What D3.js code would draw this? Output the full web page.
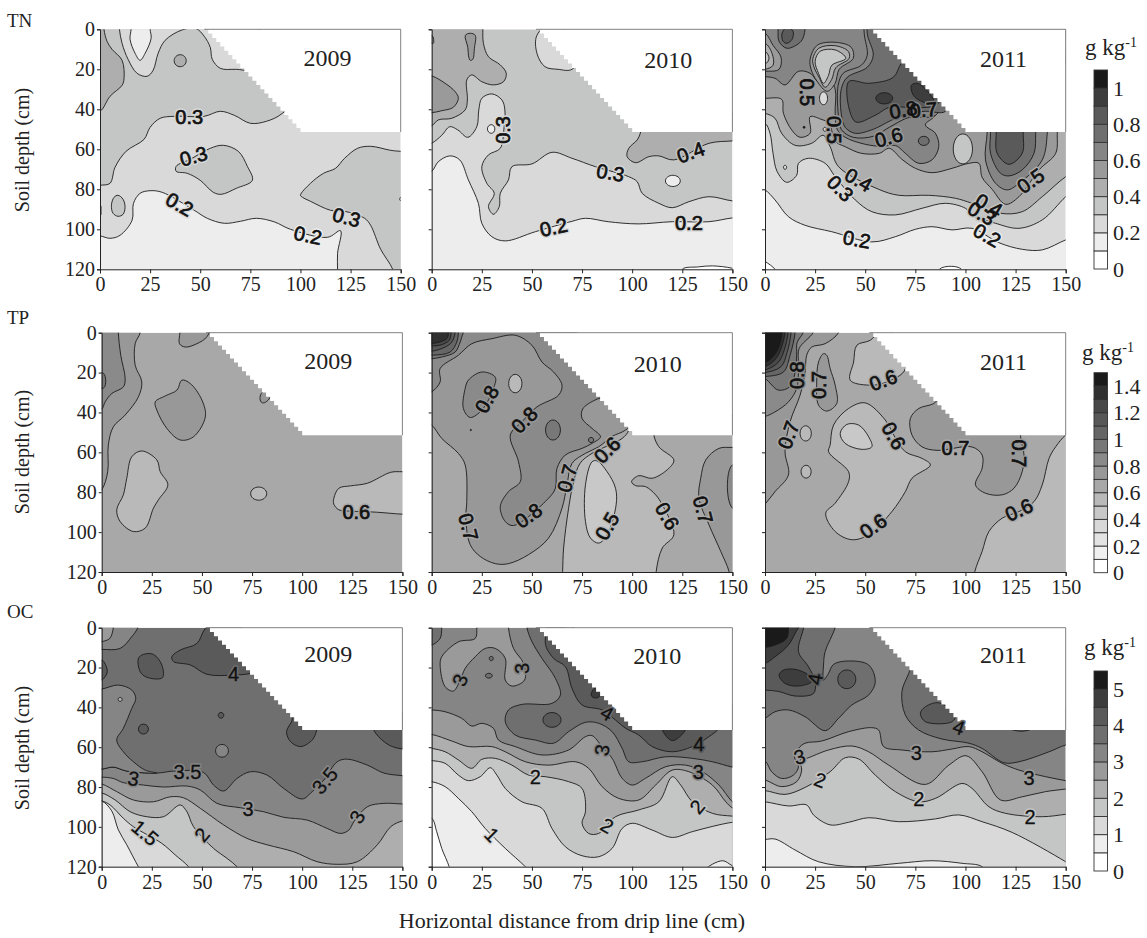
<!DOCTYPE html>
<html>
<head>
<meta charset="utf-8">
<script src="https://cdn.jsdelivr.net/npm/d3@7"></script>
<style>
  body { margin: 0; background: #fff; }
  text { font-family: "Liberation Serif", serif; fill: #222; }
  .lab, .halo { font-family: "Liberation Sans", sans-serif; font-size: 20px; }
  .halo { stroke-width: 3.5px; stroke-linejoin: round; }
  .lab { fill: #111; stroke: #111; }
  .tick text { font-size: 20px; }
  .tick line, .domain { stroke: #222; }
</style>
</head>
<body>
<svg id="chart" width="1147" height="938"></svg>
<script>
const gray11 = ['#ffffff', '#ecedec', '#d9d9d9', '#c4c6c5', '#aeaeae', '#9a9a9a', '#858585', '#6f6f6f', '#5a5a5a', '#3d3d3d', '#1a1a1a'];
const gray15 = ['#ffffff', '#f0f0f0', '#e3e3e3', '#d8d8d8', '#c8c8c8', '#b8b9b8', '#a8a8a8', '#989898', '#8a8a8a', '#787878', '#666666', '#585858', '#484848', '#303030', '#1a1a1a'];

const xTicks = [0, 25, 50, 75, 100, 125, 150];
const depthTicks = [0, 20, 40, 60, 80, 100, 120];
const tnTicks = [0, 0.2, 0.4, 0.6, 0.8, 1];
const tpTicks = [0, 0.2, 0.4, 0.6, 0.8, 1, 1.2, 1.4];
const ocTicks = [0, 1, 2, 3, 4, 5];
const years = ['2009', '2010', '2011'];

// edge of the unsampled area, x / depth
const maskEdge = [[52, 0], [54, 2.1], [56, 4.3], [58, 6.4], [60, 8.6], [62, 10.7], [64, 12.9], [66, 15], [68, 17.1], [70, 19.3], [72, 21.4], [74, 23.6], [76, 25.7], [78, 27.9], [80, 30], [82, 32.1], [84, 34.3], [86, 36.4], [88, 38.6], [90, 40.7], [92, 42.8], [94, 45], [96, 47.1], [98, 49.3], [100, 51.4], [157, 51.4], [157, -6], [52, -6]];

// contour regions, painted in order: [band, [x, depth, x, depth, ...]]
const tn2009 = [
  [3, [-6, 79, 0, 78, 5, 77, 7.5, 69, 13, 61, 22, 55, 25, 49, 30, 44.5, 37, 43.5, 52, 43.5, 60, 41, 67, 43, 75, 47, 83, 46, 91, 42, 110, 20, 60, -6, -6, -6]],
  [2, [9.5, -6, 9.7, 0, 11, 7, 14, 15, 18.5, 22, 23.5, 23.5, 26.5, 20.5, 29, 12, 32.5, 5.5, 41, 0.3, 48, -0.3, 52, 3.5, 55, 9, 56, 15, 60, 19.5, 68, 20, 80, 20, 70, -6]],
  [1, [15.5, -6, 15.5, 0, 15, 5, 17.5, 12, 20, 15.5, 22.5, 12, 25.5, 4.5, 25, 0, 25, -6]],
  [4, [-6, 41.5, 0, 41, 5, 33.5, 11, 28, 12, 24.5, 11, 15.5, 6, 10, 3.5, 6, 2, 0, 2, -6, -6, -6]],
  [4, [37, 15.7, 40, 12.7, 43, 15.7, 40, 18.7]],
  [3, [38, 68.5, 38, 71, 43.5, 72, 50, 75.5, 56.5, 81.5, 60.5, 82.5, 68, 79.5, 76, 75.5, 73.5, 68.5, 69, 61, 61.5, 58, 55, 59.5, 45, 65]],
  [3, [100, 83, 105, 77, 111.5, 72, 117.5, 69.5, 122, 64.5, 128.5, 59.5, 135, 58.5, 145, 60.5, 150, 61, 157, 61, 157, 126, 147, 126, 146, 120, 140, 110, 135, 98, 132, 94.5, 122, 91, 115, 90.5, 105, 86, 101, 84]],
  [3, [5.7, 88, 7, 84, 9, 83, 11.5, 85, 12.5, 89, 11.5, 92.5, 9, 93.5, 6.5, 92]],
  [3, [-2, 90, 0, 88, 0.5, 90.5, 0, 93]],
  [2, [149.5, 85, 150.5, 83.5, 151, 86.5]],
  [1, [-6, 103, 0, 103.3, 5, 104.5, 10, 103, 16, 95.5, 16.7, 87, 20, 82, 25, 80.7, 31, 81.5, 47, 90.5, 53.5, 94.5, 62, 97, 70, 96, 78, 94.5, 87, 96.3, 95, 100, 113.5, 104, 120, 100.7, 118.5, 112, 118.5, 120, 118.5, 126, -6, 126]],
];
const tn2010 = [
  [2, [-6, 59, 0, 57, 5, 53, 9, 48.7, 13, 50.3, 18, 54, 22.5, 48.7, 23.5, 40.3, 25, 34.5, 30, 32.3, 35, 35.3, 36.5, 40.3, 36, 50, 34.2, 59.5, 28.3, 62.8, 25, 68.7, 27.5, 77, 31.2, 82, 28.3, 88.7, 30.8, 92.5, 33.7, 88.7, 34.2, 82, 38.3, 75.3, 40, 68.7, 50, 67.3, 60, 61.5, 70, 64.5, 81.7, 68.7, 98.3, 73.7, 102.5, 76.2, 105, 82, 113.3, 87, 120, 89.2, 128.3, 86.2, 138.3, 83.7, 150, 85.8, 157, 86, 157, 126, -6, 126]],
  [1, [27.8, 49.8, 29.7, 47.7, 31.5, 49.8, 29.7, 52]],
  [1, [116.6, 75.8, 120.3, 73, 124, 75.8, 120.3, 78.6]],
  [2, [52.5, 3, 52.5, 12, 56.5, 18.7, 63, 20, 70, 20, 75, 10, 60, -3]],
  [1, [-6, 73, 0, 71, 3.3, 66.2, 9, 63.3, 14, 65.3, 18.3, 75.3, 23.3, 87, 25, 97, 30, 103.7, 36.7, 105.8, 51.7, 101.2, 70, 96, 76.7, 94.5, 88, 96.2, 103, 97.3, 120, 96.2, 138.3, 96.2, 150, 94.3, 157, 94, 157, 126, -6, 126]],
  [0, [125, 120, 133, 118.8, 140, 118.3, 150, 119.5, 157, 122, 157, 126, 125, 126]],
  [4, [25.5, -6, 25.5, 0, 25.8, 7, 28.3, 13.7, 34.2, 17.8, 37.2, 22, 35.8, 26.2, 30.8, 27.8, 25, 26.2, 20, 22.8, 17.5, 25.3, 17.8, 35.3, 16.7, 40.3, 10, 44.5, 3.3, 45.3, 0, 48.3, -6, 50, -6, -6]],
  [5, [-6, 22.5, 0, 23.3, 6.7, 27, 11.7, 31.2, 13.3, 34.5, 10.8, 39, 5, 40.7, 0, 41.7, -6, 41.7]],
  [5, [16.8, 3, 19.2, 2, 21.7, 3, 21.3, 9.5, 20.5, 15, 19.2, 15.5, 18.5, 14, 18, 9]],
  [5, [-2, 5, 0, 3, 1, 6, 0, 7]],
  [4, [104.2, 51.3, 102.5, 55.3, 98.3, 59.5, 97.5, 63.7, 101.7, 66.7, 108.3, 63.7, 113.3, 63.3, 120.8, 65.3, 138.3, 57, 150, 55.8, 157, 55, 157, 45, 104, 45]],
];
const tn2011 = [
  [1, [-6, 78, 0, 80.3, 5, 85.3, 11.7, 93.7, 20, 98, 33.3, 101.2, 53.3, 106.3, 65, 103.7, 75, 100, 83.3, 98.7, 93.3, 100.3, 103.3, 99.5, 116.7, 106.7, 128.3, 110, 138.3, 110.3, 150, 105.3, 157, 103, 157, 126, -6, 126]],
  [0, [-6, 112, 0, 116, 5, 120, 8, 126, -6, 126]],
  [0, [87, 120, 93, 118.5, 98, 120, 100, 126, 86, 126]],
  [3, [-6, 47, 0, 47, 2.5, 52, 4, 62, 6, 71, 10.8, 76.5, 15.8, 73, 16.7, 67, 21.7, 64.5, 30, 67, 35, 73.7, 45, 85.3, 53.3, 91.2, 65, 92.8, 78.3, 89.5, 90, 87, 100, 89.5, 103.3, 92.8, 115, 97, 126.7, 99.5, 138.3, 95.3, 150, 83.7, 157, 78, 157, -6, -6, -6]],
  [4, [-6, 41, 0, 42, 5, 44.5, 8.3, 52, 15, 58, 23.3, 57, 29, 53, 32.5, 58.7, 36.7, 68.7, 56.7, 80, 66.7, 83, 81.7, 83, 95, 84.5, 103.3, 87, 117.5, 92, 128.3, 91.2, 138.3, 83.7, 150, 73.7, 157, 70, 157, -6, -6, -6]],
  [5, [-6, 34.5, 0, 34.5, 8.3, 35, 9.2, 42, 13.3, 50.3, 17.5, 54, 22.5, 52, 22.5, 43.7, 28, 45, 32, 47, 35, 56, 40, 58.7, 48, 62, 57, 62, 62, 59.5, 68.3, 65, 75, 69.5, 83.3, 71.7, 93.3, 69.5, 101.7, 67, 106.7, 67, 108.3, 74, 113.3, 80, 120, 87.5, 126.7, 83.7, 136.7, 70.3, 145, 62, 145.8, 52, 146, 40, 146, -6, -6, -6]],
  [6, [-6, 23.7, 0, 23.7, 5, 24.5, 10, 27.8, 16.7, 21, 22.5, 22, 27, 26.5, 32, 25, 35, 30, 35, 42, 36, 50, 40, 54, 50, 57.5, 58, 58.5, 63, 58, 66, 58.5, 70, 62, 76.7, 67, 83.3, 65.3, 86.7, 58.7, 85, 52, 80, 47.8, 85, 43, 90, 30, 60, -6, -6, -6]],
  [5, [-6, 2, 0, 2, 4, 8, 8, 14, 7, 20, 0, 21, -6, 21]],
  [4, [-6, 8, 0, 7, 3.5, 12, 4, 18, 0, 20, -6, 20]],
  [3, [-6, 12, 0, 11, 2, 14.5, 0, 17.5, -6, 18]],
  [7, [6, -6, 6.5, 0, 7, 6, 11, 9.5, 18, 6, 20, 0, 20, -6]],
  [8, [8.5, 2, 11, -1, 14, 1, 13.5, 5, 11, 7, 9, 6]],
  [5, [22.5, 15, 26, 8, 35, 6.5, 43, 9, 44, 14.5, 37, 20, 35, 27, 31, 31, 26, 26, 23, 20]],
  [4, [23.8, 15, 26.8, 9.5, 35, 8.2, 41.5, 11, 42, 14.5, 35.3, 19.2, 33.3, 25, 30, 29, 27, 24, 24.5, 19]],
  [3, [25, 16, 27.5, 11, 35, 10.3, 40.3, 14.5, 33.3, 18, 31.7, 23, 29.2, 27, 26.7, 22]],
  [2, [27.2, 34.5, 29.2, 31.3, 31.2, 34.5, 29.2, 37.7]],
  [2, [29, 50, 30, 49, 31, 50, 30, 51]],
  [2, [9.2, 69, 10, 68, 10.8, 69, 10, 70]],
  [10, [19, 49, 19.5, 48.5, 20, 49, 19.5, 49.5]],
  [6, [50, -6, 49.5, 2, 51, 13, 48, 18, 39, 22, 36.5, 28, 36.5, 42, 38, 50, 44, 54, 54, 53.5, 62, 49, 72, 44, 85, 43, 90, 30, 60, -6]],
  [7, [52, -6, 51, 2, 54, 13, 51, 19, 41, 24, 38, 30, 38, 42, 40, 49, 45, 52, 54, 50, 63, 45.5, 72, 42, 80, 41, 90, 41, 90, 30, 60, -6]],
  [8, [41.7, 26.2, 45, 46.2, 55, 43, 62, 39, 72, 39, 85, 38, 90, 30, 72, 14, 68, 17, 64, 24, 52, 27]],
  [9, [55.3, 34.5, 59.5, 31.7, 63.7, 34.5, 59.5, 37.3]],
  [9, [73, 28, 76, 27, 82, 32, 85, 38, 78, 36, 74, 33]],
  [7, [76.5, 55.8, 79.2, 53.5, 81.9, 55.8, 79.2, 58.1]],
  [3, [93.9, 59.8, 98.7, 52.3, 103.5, 59.8, 98.7, 67.3]],
  [6, [110.8, 45, 110.8, 52, 110, 65.3, 115, 77, 120.8, 80.3, 126.7, 77, 138.3, 65.3, 140.8, 52, 140.8, 45]],
  [7, [112.5, 45, 112.5, 52, 112.5, 62, 117.5, 72, 121.7, 73.3, 128.3, 70.3, 134.2, 62, 135, 52, 135, 45]],
  [8, [115.3, 45, 115.3, 52, 115.8, 62, 121.7, 67.5, 128.3, 62, 128.8, 52, 128.8, 45]],
];
const tp2009 = [
  [7, [19.2, -6, 19.2, 0, 16.7, 5.5, 16.7, 16.3, 20, 24.7, 18.3, 32.2, 11.7, 41.3, 5.8, 47.2, 3.3, 56.3, 3, 69.7, 0, 78.8, -6, 84, -6, -6]],
  [8, [8.3, -6, 8.3, 0, 9.5, 11.3, 11.7, 23, 10.8, 27.2, 5, 30.5, 1.7, 34.7, 0, 38.3, -6, 40, -6, -6]],
  [9, [-3, 24, 0, 20, 2, 24.3, 0, 28]],
  [7, [39, -6, 39, 0, 38.8, 5.5, 41.7, 7.2, 47.5, 5.5, 52.5, 2, 55, -6]],
  [7, [26.7, 34.7, 27.5, 38.8, 32.5, 48, 39.2, 53.8, 45.8, 52.2, 51.7, 42.2, 50, 33.8, 44.2, 25.5, 40, 23.8, 37.5, 28.8, 31.7, 31.7]],
  [7, [79.5, 34.7, 80, 30, 84, 30, 83, 33.8]],
  [5, [7.5, 88.8, 9.2, 94.7, 15.8, 99.7, 21.7, 98, 25.8, 88, 28.3, 83.8, 33, 76.3, 29.2, 69.7, 27.5, 63.8, 20, 59.3, 15, 62.2, 12.5, 73, 10.8, 81.3]],
  [5, [74.3, 80.7, 78.3, 77.4, 82.3, 80.7, 78.3, 84]],
  [5, [115.8, 83, 118.3, 78, 124.2, 76.8, 132.5, 75.5, 144.2, 70, 150, 69.7, 157, 69.5, 157, 91, 150, 91, 137, 90, 125, 89.5, 118.3, 88.8, 115.8, 86]],
];
const tp2010 = [
  [6, [98.3, 48.8, 95, 53, 80, 60.5, 74, 65.5, 70.8, 74.7, 68.3, 88, 65.8, 108, 65.3, 119.7, 65, 126, -6, 126, -6, -6, 60, -6, 100, 30]],
  [6, [110.8, 51.3, 113.3, 57.2, 120.8, 63.8, 118.3, 68, 110, 73, 103.3, 71.7, 99.7, 74.7, 101.7, 76.7, 106.7, 77.2, 111.7, 81.3, 115, 86.3, 120.8, 101.3, 115, 108, 112, 119.7, 112, 126, 157, 126, 157, 45, 110.8, 45]],
  [4, [80, 64.7, 76.7, 76.3, 76.7, 94.7, 79.2, 103, 83.3, 105.5, 87.5, 101.3, 92, 86.3, 91.7, 78, 87.5, 69.7, 82.5, 64.3]],
  [7, [-6, 43, 0, 46.3, 5, 53, 13.3, 60.5, 16.7, 66.3, 17.5, 84.7, 17, 93, 19.2, 106.3, 24.2, 112.2, 31.7, 115.8, 38.3, 115.8, 48.3, 111.3, 58.3, 103, 65, 88, 67.5, 76.3, 70, 65.5, 76.7, 60.5, 83.3, 57.2, 90, 52, 96.7, 48.8, 110, 35, 60, -6, -6, -6]],
  [7, [157, 57, 150, 57.5, 143.3, 58, 136.7, 63.8, 134.2, 73, 133.3, 83, 138.3, 96.3, 144.2, 109.7, 148.3, 119.7, 149, 126, 157, 126]],
  [8, [157, 66, 150, 66.3, 147.5, 76.3, 150, 88, 157, 90]],
  [8, [-6, 32, 0, 29.7, 4.2, 24.7, 4.2, 18, 13.3, 11.3, 20, 5.5, 30, 3, 41.7, 1.3, 50, 6.3, 55, 14.7, 60.8, 19.7, 65, 26.3, 63.3, 31.3, 52.5, 37.2, 45, 44.7, 39.2, 51.3, 43.3, 64.7, 44.2, 74.7, 38.3, 79.7, 34.2, 87.2, 36.7, 94.7, 40.8, 96.7, 58.3, 83, 61.7, 78, 62.5, 68, 66.7, 61.3, 75, 58, 80, 55.5, 84.2, 52.2, 80, 48, 75, 43, 75.3, 38.3, 82.5, 33.3, 95, 30, 60, -6, -6, -6]],
  [8, [16.7, 28, 15.8, 38, 19.2, 42.5, 25, 38.8, 30.8, 28, 31.7, 22.3, 25, 19.7, 18.3, 23.8]],
  [5, [38.4, 25.5, 41.7, 20.9, 45, 25.5, 41.7, 30.1]],
  [9, [56.8, 48.8, 60.5, 43.8, 64.2, 48.8, 60.5, 53.8]],
  [9, [78.2, 53.8, 79.5, 52.5, 80.8, 53.8, 79.5, 55.1]],
  [10, [19.2, 48.8, 19.5, 48.4, 19.8, 48.8, 19.5, 49.2]],
  [9, [20, -6, 15.8, 0, 14.2, 4.7, 11.7, 9.7, 5, 12.2, 0, 13, -6, 13, -6, -6]],
  [10, [13.3, -6, 13.3, 0, 12.5, 4.7, 9.2, 9.7, 0, 11.3, -6, 11, -6, -6]],
  [11, [11.7, -6, 11.7, 0, 10, 4.7, 6.7, 7.2, 0, 9.3, -6, 9.3, -6, -6]],
  [12, [9.7, -6, 9.7, 0, 8.7, 3.8, 5, 6, 0, 6.7, -6, 6.7, -6, -6]],
  [13, [8.3, -6, 8.3, 0, 7.5, 3, 0, 5.5, -6, 5.5, -6, -6]],
];
const tp2011 = [
  [5, [52.5, 3.8, 45.8, 6.3, 44.2, 14.7, 42.5, 23.8, 51.7, 26.3, 60, 25, 70, 18, 60, -3]],
  [5, [32.5, 56.3, 31.7, 59.7, 41.7, 69.7, 41.7, 74.7, 35, 85.5, 30.3, 90.5, 35, 99.7, 43.3, 103.8, 51.7, 101.3, 63.3, 89.7, 70, 79.7, 73.3, 73, 82.5, 66.3, 78.3, 63, 70, 59.7, 64.2, 51.3, 60, 43.8, 50, 35.2, 41.7, 38, 34.2, 46.3]],
  [4, [37.5, 50.5, 40, 55.5, 48.3, 58.5, 53.3, 57.2, 51.7, 52.2, 46.7, 46.3, 40.8, 46]],
  [5, [157, 47, 150, 51.3, 145, 57.2, 141.7, 63, 138.3, 76.3, 134.2, 84.7, 126.7, 89.7, 118.3, 93, 111.7, 99.7, 108.3, 109.7, 104.7, 119.7, 104, 126, 157, 126]],
  [7, [-6, 92, 0, 86, 5, 79.7, 11.7, 71.3, 10, 59.7, 12.5, 44.7, 17.5, 31.3, 20, 19.7, 20.8, 11.3, 23.3, 7.2, 30, 5.5, 36.7, 0, 38, -6, -6, -6]],
  [5, [17.5, 50.5, 20.3, 46.7, 23.1, 50.5, 20.3, 54.3]],
  [5, [18, 69.7, 20.5, 66.5, 23, 69.7, 20.5, 72.9]],
  [7, [29.2, 10.5, 26.7, 14.7, 25.8, 24.7, 26.7, 36.3, 30.8, 39.3, 35.8, 35.5, 35, 26.3, 32.5, 18, 30.8, 11.3]],
  [7, [84.2, 35.5, 76.7, 38, 72.5, 43, 73.3, 51.3, 78.3, 57.2, 85.8, 59, 103.3, 57.3, 108.3, 61.3, 108.3, 68, 105, 76.3, 110, 80.5, 118.3, 81.3, 124.2, 78, 128.3, 69.7, 129.2, 61.3, 127.5, 52.2, 127.5, 45, 100, 45, 90, 30]],
  [8, [-6, 43, 0, 42, 5, 39.7, 11.7, 34.7, 15.8, 28, 16.7, 20, 16.7, 14.7, 17, 8, 24, 0, 26, -6, -6, -6]],
  [9, [-6, 21, 0, 23, 6.7, 28.8, 12.5, 27, 15, 20, 15.8, 11, 16, 5, 19, 0, 20, -6, -6, -6]],
  [10, [15, -6, 15, 0, 12.5, 11.3, 9.2, 19.7, 0, 22, -6, 22, -6, -6]],
  [11, [13, -6, 13, 0, 11, 10, 8, 17, 0, 20, -6, 20, -6, -6]],
  [12, [11.5, -6, 11.5, 0, 9.5, 9, 6.5, 15, 0, 18.7, -6, 18.7, -6, -6]],
  [13, [10, -6, 10, 0, 8, 8, 5.5, 13, 0, 17, -6, 17, -6, -6]],
  [14, [8.5, -6, 8.5, 0, 7, 7, 4, 12, 0, 15, -6, 15, -6, -6]],
];
const oc2009 = [
  [6, [-6, 71, 0, 71, 5.8, 70, 12.5, 72, 27.5, 73, 35.8, 72, 50.8, 72.7, 55.8, 79, 60.8, 82, 67.5, 75.7, 74.2, 72.3, 82.5, 74, 90.8, 80.7, 100, 86, 105, 82.3, 110.8, 76.5, 117.5, 67.3, 122.5, 66, 132.5, 69, 140.8, 73, 150, 74.3, 157, 75, 157, 126, -6, 126]],
  [5, [-6, 75, 0, 75, 5.8, 75.7, 10.8, 77.8, 20.8, 79, 30.8, 80, 42.5, 79.5, 49.2, 81.5, 57.5, 88.2, 69.2, 90.4, 80.8, 92.4, 90.8, 95.2, 102.5, 96.6, 112.5, 100.8, 119.2, 103.3, 123.3, 101.6, 125.8, 97.4, 132.5, 89.9, 140.8, 88.2, 150, 88.5, 157, 88.5, 157, 126, -6, 126]],
  [4, [-6, 78, 0, 78.5, 7.5, 82.3, 15.8, 86.5, 25.8, 87.4, 34.2, 84.9, 40.8, 85.4, 49.2, 90.7, 60.8, 99, 72.5, 105.8, 82.5, 109, 95.8, 112.5, 107.5, 117.5, 117.5, 118.8, 127.5, 117.5, 137.5, 109, 144.2, 99.9, 150, 97, 157, 96, 157, 126, -6, 126]],
  [3, [-6, 83, 0, 83, 6.7, 86.5, 14.2, 92.4, 22.5, 94.9, 30.8, 94.9, 39.2, 89, 42.5, 92.4, 45.8, 99.9, 55.8, 110.8, 62.5, 115.8, 67.5, 120, 72, 126, -6, 126]],
  [2, [-6, 87, 0, 87, 4.2, 89, 10.8, 95.7, 15.8, 99.9, 30, 108.3, 36.7, 114.1, 43.3, 120, 47, 126, -6, 126]],
  [1, [-6, 87, 0, 87, 5, 92, 8.3, 101.5, 12.5, 109, 18.3, 120, 22, 126, -6, 126]],
  [8, [51.7, 0.3, 47.5, 7.9, 39.2, 11.2, 35, 14.6, 35.8, 17, 44.2, 18.7, 52.5, 23.4, 65.8, 23.8, 74.2, 23, 85, 20, 60, -6]],
  [8, [18.3, 15.4, 19.2, 22.1, 22.5, 24.9, 30.3, 25.1, 30, 18.7, 25.8, 13.4, 20.8, 13.4]],
  [8, [-6, 25, 0, 16.2, 2.8, 22, 0, 26.3, -6, 27]],
  [8, [18.3, 50.9, 20.8, 48.4, 23.3, 50.9, 20.8, 53.4]],
  [8, [58.1, 44, 59.5, 42.6, 60.9, 44, 59.5, 45.4]],
  [8, [95, 46.4, 92.2, 52.2, 94.2, 57.2, 99.2, 59.7, 105, 56.4, 107.2, 51.4, 107, 45, 95, 42]],
  [8, [135.8, 51.4, 140.8, 57.2, 145, 59.7, 150, 60.9, 157, 61, 157, 45, 135.8, 45]],
  [6, [-6, 31, 0, 30.8, 8.3, 28.8, 15, 31.3, 17, 35.5, 15, 40.5, 10.8, 50.5, 7.5, 56.4, 10.8, 62.3, 15.8, 67.3, 21.7, 71.5, 27.5, 73, 12.5, 72, 5.8, 70, 0, 71, -6, 71]],
  [4, [8.2, 36, 9.2, 35, 10.2, 36, 9.2, 37]],
  [6, [56.8, 61.8, 60, 58.6, 63.2, 61.8, 60, 65]],
  [6, [-6, 11, 0, 10.9, 9.2, 10.4, 15, 4.5, 18, 0, 19, -6, -6, -6]],
  [5, [6, -6, 5.8, 0, 4, 5.4, 0, 7, -6, 7.5, -6, -6]],
];
const oc2010 = [
  [5, [-6, 41.3, 0, 41.3, 6.7, 42.2, 15, 45.5, 20, 49.4, 25, 48, 30.8, 50.5, 33.3, 56.4, 41.7, 59.7, 55, 63.9, 68.3, 61.4, 76.7, 54.7, 80, 54.2, 85, 59.7, 90, 65.6, 95, 75.6, 100, 79, 106.7, 75.6, 116.7, 69.8, 126.7, 69, 135, 72.3, 143.3, 79, 150, 87.4, 157, 92, 157, 126, -6, 126]],
  [4, [-6, 53.5, 0, 53.6, 10, 56.9, 18.3, 59.7, 30, 59.7, 36.7, 62.3, 46.7, 67.3, 58.3, 69, 71.7, 67.3, 78.3, 70.6, 85, 79.8, 93.3, 85.7, 103.3, 86.5, 111.7, 79, 120, 71.5, 128.3, 72.3, 140, 79, 146.7, 87.4, 150, 90.4, 157, 92, 157, 126, -6, 126]],
  [3, [-6, 60, 0, 60.6, 6.7, 62.3, 13.3, 66.4, 20, 70.6, 25, 66.1, 31.7, 65.6, 40, 69, 48.3, 74, 56.7, 74.8, 68.3, 77.3, 75, 80.7, 76.7, 92.4, 75, 98.2, 78.3, 103.3, 83.3, 103.3, 91.7, 94.9, 103.3, 91.5, 113.3, 87.4, 120, 74.8, 124.2, 79, 130, 87.4, 140, 93.2, 150, 94.6, 157, 95, 157, 126, -6, 126]],
  [2, [-6, 66, 0, 66.7, 6.7, 68.1, 13.3, 74, 18.3, 76.8, 24.2, 74.8, 29.2, 70.3, 32.5, 74, 36.7, 80.7, 45, 87.4, 55, 90.7, 60, 100.8, 66.7, 110, 75, 114.5, 83.3, 115, 90, 110.8, 95, 100.8, 100, 98.2, 110, 101.6, 120, 105.3, 130, 102.4, 143.3, 99, 150, 97.7, 157, 97, 157, 126, -6, 126]],
  [1, [-6, 77, 0, 77.3, 6.7, 79.8, 13.3, 85.7, 20, 92.4, 26.7, 100.8, 36.7, 110.8, 46.7, 120, 52, 126, -6, 126]],
  [0, [-6, 95, 0, 95.7, 2.5, 102.4, 5, 110.8, 8.7, 120, 10, 126, -6, 126]],
  [1, [136, 122, 145, 117, 150, 119.5, 157, 122, 157, 126, 136, 126]],
  [5, [38.3, -6, 38.3, 0, 40.8, 10.4, 45.8, 17.9, 46.3, 26.3, 40, 29.3, 36.7, 26.3, 36.7, 15.4, 31.7, 10.4, 26.7, 10.4, 21.7, 14.6, 16.7, 20.4, 14.2, 26.3, 10.8, 31.8, 6.7, 29.6, 4.2, 18.8, 5, 14.6, 13.3, 7.1, 21.7, 5.4, 22.5, 0, 22.5, -6]],
  [7, [5, -6, 5, 0, 4.2, 5.4, 0, 8.7, -6, 9, -6, -6]],
  [7, [28.7, 15.4, 29.7, 14.4, 30.7, 15.4, 29.7, 16.6]],
  [7, [26.8, 24.1, 28.5, 22.9, 30.2, 24.1, 28.5, 25.3]],
  [7, [47, -6, 47.5, 0, 50, 7, 55, 15.4, 61.7, 25.4, 64.2, 33.8, 60, 38, 45, 38.5, 38.3, 41.3, 36.7, 47.2, 41.7, 53.9, 51.7, 56.4, 60.8, 58, 68.3, 52.2, 76.7, 47.5, 83.3, 48, 90, 52.2, 95, 60.6, 98.3, 67.3, 105, 67.3, 116.7, 64.8, 130, 65.6, 140, 67.3, 150, 70, 157, 71, 157, 45, 100, 20, 60, -6]],
  [8, [56.7, 7.9, 60.8, 15.4, 66.7, 19.6, 70, 30.5, 75, 38.8, 85, 41.3, 91.7, 46.4, 96.7, 50.5, 103.3, 53.9, 110, 59.7, 120, 62.3, 130, 59.7, 138.3, 54.7, 143.3, 50.5, 145, 45, 100, 45, 80, 15, 60, -3]],
  [9, [115, 51, 120, 56.7, 126.7, 51, 126, 45, 116, 45]],
  [9, [80, 32, 80.5, 35, 84, 34, 83, 30]],
  [8, [55.5, 46.3, 60, 42.6, 64.5, 46.3, 60, 50]],
];
const oc2011 = [
  [5, [-6, 66, 0, 66.9, 3.3, 72.3, 8.3, 75.7, 14.2, 74, 16.7, 69.8, 14.7, 64.8, 16.7, 60.6, 20, 58, 28.3, 56.9, 41.7, 52.2, 53.3, 50.2, 56.7, 51.4, 59.2, 59.7, 68.3, 61.4, 83.3, 62.3, 93.3, 60.9, 101.7, 59.7, 108.3, 62.3, 118.3, 68.1, 126.7, 71.5, 140, 74.8, 150, 76.8, 157, 78, 157, 126, -6, 126]],
  [4, [-6, 76, 0, 76.5, 8.3, 79.8, 15.8, 77.3, 18.3, 71.5, 17.5, 66.4, 20.8, 65.6, 31.7, 61.4, 43.3, 59.4, 51.7, 62.3, 61.7, 69, 80, 78.7, 91.7, 69, 100.3, 64.3, 108.3, 72.3, 117.5, 86.5, 128.3, 84.9, 140, 82.3, 150, 81, 157, 80, 157, 126, -6, 126]],
  [3, [-6, 82, 0, 81.8, 10, 83.7, 20, 80.2, 32.5, 72.3, 40, 65.3, 46.7, 65.9, 55, 74, 65, 82.3, 76.7, 87.4, 85, 85.7, 98.3, 78.2, 103.3, 80.7, 111.7, 89.9, 120, 93.2, 138.3, 94.9, 150, 93.7, 157, 93, 157, 126, -6, 126]],
  [2, [-6, 87, 0, 87.4, 11.7, 89.5, 20.8, 89, 24.2, 94, 32.5, 99, 41.7, 97.7, 51.7, 95.4, 66.7, 97.4, 85, 96, 96.7, 94, 108.3, 97.4, 123.3, 102.8, 150, 117.5, 157, 122, 157, 126, -6, 126]],
  [1, [-6, 106, 0, 106.3, 5, 106.1, 15, 111.6, 26.7, 117.5, 45, 120, 66.7, 118.3, 83.3, 117, 98.3, 118.3, 108.3, 120, 112, 126, -6, 126]],
  [7, [-6, 48, 0, 45.5, 5, 42.2, 11.7, 41.3, 20, 44.7, 30, 51.7, 36.7, 45.5, 43.3, 38.8, 51.7, 33.8, 55, 27.1, 51.7, 18.7, 41.7, 16.7, 34.2, 18.4, 31.7, 22.9, 29.2, 26.3, 29.2, 18.7, 30, 12, 35, 0, 36, -6, -6, -6]],
  [8, [19.5, -6, 19.2, 0, 16.7, 12, 21.7, 19.6, 25, 27, 24.2, 33, 15, 34.3, 6.7, 32, 0, 31.3, -6, 31, -6, -6]],
  [9, [22, -6, 16.7, 0, 11.7, 8.7, 5, 14.6, 0, 17.9, -6, 18, -6, -6]],
  [10, [11.7, -6, 11.7, 0, 10.8, 5.4, 5, 8.7, 0, 9.9, -6, 10, -6, -6]],
  [9, [7, 23.8, 10, 28, 16.7, 29.3, 23.3, 27, 21.7, 23.8, 15, 20.9, 9.2, 21.3]],
  [8, [36.3, 25.9, 40.8, 21.2, 45.3, 25.9, 40.8, 30.6]],
  [7, [71.7, 23, 68.3, 32.1, 70, 43.8, 76.7, 51.4, 88.3, 55.9, 101.7, 58, 108.3, 60.6, 119.2, 67.8, 126.7, 67.3, 141.7, 62.3, 150, 58.9, 157, 58, 157, 45, 100, 30, 75, 15]],
  [8, [77.5, 43, 80, 47.2, 93.3, 47.2, 95, 43.8, 86.7, 37.7, 80, 39.7]],
  [8, [120, 50, 128, 52, 135, 50]],
];

// band colour for the halo behind each label: [text, x, depth, angle, band]
const tn2009Labels = [['0.3', 44.5, 44, 0, 2], ['0.3', 46.7, 63.5, -15, 2], ['0.2', 39.7, 87.5, 30, 2], ['0.2', 103.7, 103, 12, 1], ['0.3', 123, 94, 15, 2]];
const tn2010Labels = [['0.3', 35.8, 50.3, -90, 2], ['0.3', 89.2, 71.7, 10, 2], ['0.4', 129.2, 61.5, -20, 3], ['0.2', 60.8, 99, -12, 2], ['0.2', 128.3, 96.7, 0, 2]];
const tn2011Labels = [['0.5', 20.8, 31.5, 90, 5], ['0.5', 34.2, 50.3, 90, 5], ['0.6', 61.7, 54, -15, 5], ['0.8', 69, 40.3, -10, 7], ['0.7', 79, 40.3, -5, 6], ['0.4', 46.7, 75.3, 30, 3], ['0.3', 37.5, 79.5, 45, 2], ['0.4', 111.7, 88, 30, 3], ['0.3', 108, 92, 30, 3], ['0.2', 110.8, 103, 30, 1], ['0.5', 132.5, 75.8, -35, 4], ['0.2', 45.8, 105, 10, 1]];
const tp2009Labels = [['0.6', 127, 89.7, 0, 6]];
const tp2010Labels = [['0.8', 27.5, 33.3, -60, 7], ['0.8', 46.2, 43.8, -45, 7], ['0.6', 87.5, 58.8, -45, 6], ['0.7', 67.5, 73, -75, 6], ['0.8', 48.3, 91.7, -35, 7], ['0.7', 18.3, 97.5, 75, 6], ['0.5', 87.5, 97, -60, 5], ['0.6', 117.5, 92, 60, 5], ['0.7', 135.3, 88.8, 75, 6]];
const tp2011Labels = [['0.8', 15.8, 21.3, -90, 8], ['0.7', 26.7, 26.3, -90, 7], ['0.7', 11.7, 51.3, -70, 6], ['0.6', 59, 23.8, -20, 6], ['0.6', 64.2, 51.7, 60, 6], ['0.6', 54, 97, -35, 6], ['0.7', 95, 58, 0, 6], ['0.7', 126.7, 60.5, 90, 7], ['0.6', 126.7, 88.8, -25, 6]];
const oc2009Labels = [['4', 65.8, 23.4, 0, 7], ['3', 15.8, 75.7, 10, 6], ['3.5', 42.8, 72.6, 0, 6], ['3.5', 111.3, 76.8, -50, 6], ['3', 73, 91, 0, 5], ['3', 127.5, 95, -60, 5], ['2', 50, 104, -50, 4], ['1.5', 21.7, 103, 40, 3]];
const oc2010Labels = [['3', 14.2, 26.3, -70, 6], ['3', 45, 20.4, -90, 6], ['2', 51.7, 74.8, 0, 3], ['3', 85, 61.4, -80, 6], ['4', 87.5, 43, 30, 7], ['4', 133.3, 58.6, 0, 8], ['3', 133, 72.3, 0, 6], ['2', 132.5, 89.9, -50, 3], ['2', 87.5, 99.4, 30, 3], ['1', 30, 104, 45, 2]];
const oc2011Labels = [['4', 25, 25.8, -80, 8], ['3', 17.2, 64.8, -15, 5], ['2', 27.5, 76.5, 20, 3], ['3', 75.5, 63, 0, 5], ['2', 76.7, 86.2, 0, 3], ['4', 96.7, 50, 20, 7], ['3', 131.7, 75.3, 0, 5], ['2', 132.2, 94.9, 0, 3]];

const svg = d3.select('#chart');

const rows = [
  { name: 'TN', top: 29.3, bottom: 269.3, gray: gray11, lefts: [100, 431.7, 765], bases: [2, 3, 2], regions: [tn2009, tn2010, tn2011], labels: [tn2009Labels, tn2010Labels, tn2011Labels], yearX: [113.5, 118, 119], yearY: [66, 68, 66.5], nameY: 27, axisY: 150, labWeight: 0.7, legend: { top: 70, bottom: 269, max: 1.1, ticks: tnTicks, titleX: 1085, titleY: 55 } },
  { name: 'TP', top: 332.7, bottom: 572, gray: gray15, lefts: [101.7, 431.7, 765], bases: [6, 5, 6], regions: [tp2009, tp2010, tp2011], labels: [tp2009Labels, tp2010Labels, tp2011Labels], yearX: [113, 112.8, 119], yearY: [369, 372, 370], nameY: 324, axisY: 452, labWeight: 0.7, legend: { top: 372.7, bottom: 572.7, max: 1.5, ticks: tpTicks, titleX: 1082, titleY: 360 } },
  { name: 'OC', top: 627.7, bottom: 866.7, gray: gray11, lefts: [101.7, 431.7, 765], bases: [7, 6, 6], regions: [oc2009, oc2010, oc2011], labels: [oc2009Labels, oc2010Labels, oc2011Labels], yearX: [113, 112.5, 119], yearY: [662, 664, 663], nameY: 618, axisY: 748, labWeight: 0.3, legend: { top: 671, bottom: 871, max: 5.5, ticks: ocTicks, titleX: 1084, titleY: 655 } },
];

function toPoints(flat) {
  return d3.range(0, flat.length, 2).map((i) => [flat[i], flat[i + 1]]);
}

function drawPanel(row, col, idx) {
  const left = row.lefts[col];
  const x = d3.scaleLinear().domain([0, 150]).range([left, left + 300.7]);
  const y = d3.scaleLinear().domain([0, 120]).range([row.top, row.bottom]);

  const clipId = 'clip' + idx;
  svg.append('clipPath').attr('id', clipId).append('rect')
    .attr('x', x(0)).attr('y', y(0))
    .attr('width', x(150) - x(0)).attr('height', y(120) - y(0));

  const g = svg.append('g').attr('clip-path', 'url(#' + clipId + ')');
  const region = d3.line().x((d) => x(d[0])).y((d) => y(d[1])).curve(d3.curveCatmullRomClosed.alpha(0.5));
  // four point islands are ovals
  const oval = d3.line().x((d) => x(d[0])).y((d) => y(d[1])).curve(d3.curveCardinalClosed.tension(-0.66));

  g.append('rect')
    .attr('x', x(0)).attr('y', y(0))
    .attr('width', x(150) - x(0)).attr('height', y(120) - y(0))
    .attr('fill', row.gray[row.bases[col]]);

  g.selectAll('path.region')
    .data(row.regions[col])
    .enter()
    .append('path')
    .attr('class', 'region')
    .attr('d', (d) => (d[1].length === 8 ? oval : region)(toPoints(d[1])))
    .attr('fill', (d) => row.gray[d[0]])
    .attr('stroke', '#1c1c1c')
    .attr('stroke-width', 0.9);

  const mask = d3.line().x((d) => x(d[0])).y((d) => y(d[1])).curve(d3.curveStepAfter);
  g.append('path').attr('d', mask(maskEdge) + 'Z').attr('fill', '#fff');

  ['halo', 'lab'].forEach((cls) => {
    g.selectAll('text.' + cls)
      .data(row.labels[col])
      .enter()
      .append('text')
      .attr('class', cls)
      .attr('text-anchor', 'middle')
      .attr('dominant-baseline', 'central')
      .attr('transform', (d) => `translate(${x(d[1])},${y(d[2])}) rotate(${d[3]})`)
      .attr('stroke', (d) => (cls === 'halo' ? row.gray[d[4]] : null))
      .attr('fill', (d) => (cls === 'halo' ? row.gray[d[4]] : null))
      .style('fill', (d) => (cls === 'halo' ? row.gray[d[4]] : null))
      .attr('stroke-width', cls === 'lab' ? row.labWeight : null)
      .text((d) => d[0]);
  });

  svg.append('path')
    .attr('d', `M${x(52)},${y(0)}H${x(150)}V${y(51.4)}`)
    .attr('fill', 'none')
    .attr('stroke', '#666')
    .attr('stroke-width', 0.8);

  svg.append('text')
    .attr('x', x(row.yearX[col]))
    .attr('y', row.yearY[col])
    .attr('text-anchor', 'middle')
    .attr('font-size', 24)
    .text(years[col]);

  svg.append('g')
    .attr('transform', `translate(0,${row.bottom})`)
    .call(d3.axisBottom(x).tickValues(xTicks).tickFormat(d3.format('d')).tickSizeOuter(0).tickSize(4).tickPadding(4));

  const yAxis = d3.axisLeft(y).tickValues(depthTicks).tickSizeOuter(0).tickSize(3).tickPadding(2);
  if (col > 0) yAxis.tickFormat('');
  svg.append('g').attr('transform', `translate(${left},0)`).call(yAxis);
}

function drawLegend(row) {
  const lg = row.legend;
  const y = d3.scaleLinear().domain([0, lg.max]).range([lg.bottom, lg.top]);
  const step = lg.max / row.gray.length;
  const g = svg.append('g');

  g.selectAll('rect')
    .data(row.gray)
    .enter()
    .append('rect')
    .attr('x', 1094).attr('width', 13.5)
    .attr('y', (d, i) => y((i + 1) * step))
    .attr('height', (d, i) => y(i * step) - y((i + 1) * step))
    .attr('fill', (d) => d)
    .attr('stroke', '#333')
    .attr('stroke-width', 0.9);

  g.selectAll('text.val')
    .data(lg.ticks)
    .enter()
    .append('text')
    .attr('class', 'val')
    .attr('x', 1113)
    .attr('y', (d) => y(d) + 7.5)
    .attr('font-size', 22)
    .text((d) => d);

  const title = g.append('text').attr('x', lg.titleX).attr('y', lg.titleY).attr('font-size', 23);
  title.append('tspan').text('g kg');
  title.append('tspan').attr('dy', -8).attr('font-size', 14).text('-1');
}

rows.forEach((row, r) => {
  row.regions.forEach((d, col) => drawPanel(row, col, r * 3 + col));
  drawLegend(row);

  svg.append('text').attr('x', 7).attr('y', row.nameY).attr('font-size', 19).text(row.name);
  svg.append('text')
    .attr('transform', `translate(29,${row.axisY}) rotate(-90)`)
    .attr('text-anchor', 'middle')
    .attr('font-size', 20)
    .text('Soil depth (cm)');
});

svg.append('text')
  .attr('x', 572).attr('y', 928)
  .attr('text-anchor', 'middle')
  .attr('font-size', 22)
  .text('Horizontal distance from drip line (cm)');
</script>
</body>
</html>
